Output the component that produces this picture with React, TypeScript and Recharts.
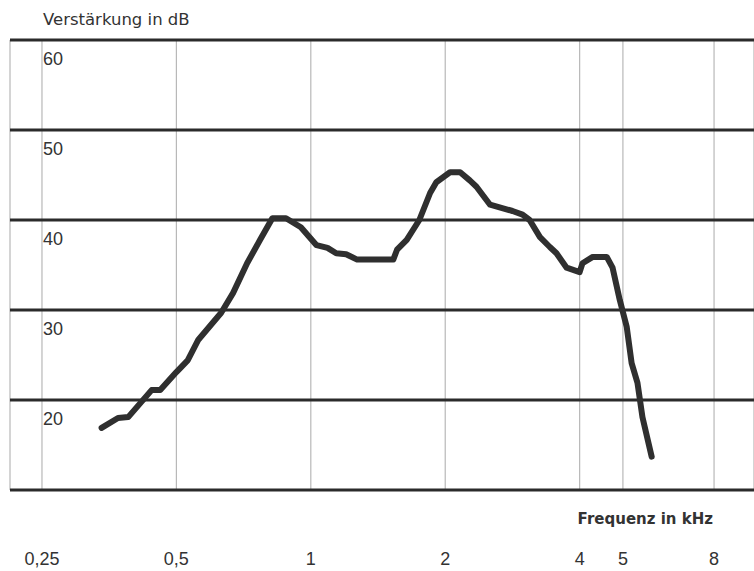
import { LineChart, Line, XAxis, YAxis, CartesianGrid, ReferenceLine, Label } from "recharts";

// Hörgerät-Frequenzgang, log. Frequenzachse
const freqKHz = [
  0.34, 0.37, 0.39, 0.44, 0.46, 0.5, 0.53, 0.56, 0.63, 0.67,
  0.72, 0.77, 0.82, 0.88, 0.95, 1.03, 1.09, 1.14, 1.2, 1.27,
  1.53, 1.56, 1.64, 1.75, 1.85, 1.91, 2.05, 2.16, 2.27, 2.35,
  2.52, 2.83, 2.98, 3.09, 3.26, 3.43, 3.55, 3.74, 4.0, 4.06,
  4.28, 4.6, 4.74, 4.92, 5.1, 5.23, 5.39, 5.53, 5.8,
];
const gainDb = [
  16.9, 18.0, 18.1, 21.1, 21.1, 23.1, 24.4, 26.7, 29.7, 31.9,
  35.2, 37.8, 40.2, 40.2, 39.2, 37.2, 36.9, 36.3, 36.2, 35.6,
  35.6, 36.7, 37.8, 40.0, 43.0, 44.2, 45.3, 45.3, 44.4, 43.7,
  41.7, 41.0, 40.6, 40.0, 38.1, 37.0, 36.3, 34.7, 34.2, 35.2,
  35.9, 35.9, 34.7, 31.1, 28.1, 24.1, 21.9, 18.1, 13.7,
];
const freqTicks = [0.25, 0.5, 1, 2, 4, 5, 8];
const dbLines = [10, 20, 30, 40, 50, 60];
const dbLabeled = [20, 30, 40, 50, 60];

const data = freqKHz.map((f, i) => ({ f, gain: gainDb[i] }));

const FONT = "'Liberation Sans', Arial, sans-serif";
const INK = "#333";

function FreqTick({ x, y, payload }: any) {
  return (
    <text x={x} y={y} dy={75} textAnchor="middle" fontFamily={FONT} fontSize={18} fill={INK}>
      {String(payload.value).replace(".", ",")}
    </text>
  );
}

export default function App() {
  return (
    <div style={{ position: "absolute", left: 0, top: 0, background: "#fff" }}>
      <LineChart width={754} height={571} data={data} margin={{ top: 40, right: 0, bottom: 0, left: 10 }}>
        <CartesianGrid horizontal={false} stroke="#b8b8b8" strokeWidth={1.2} />
        <XAxis
          dataKey="f"
          type="number"
          scale="log"
          domain={[0.212, 9.83]}
          allowDataOverflow
          ticks={freqTicks}
          axisLine={false}
          tickLine={false}
          tickSize={0}
          tickMargin={0}
          height={81}
          tick={<FreqTick />}
        >
          <Label
            content={({ viewBox }: any) => (
              <text
                x={viewBox.x + viewBox.width - 41}
                y={viewBox.y + 34}
                textAnchor="end"
                fontFamily="'DejaVu Sans', sans-serif"
                fontWeight="bold"
                fontSize={15}
                fill={INK}
              >
                Frequenz in kHz
              </text>
            )}
          />
        </XAxis>
        <YAxis hide type="number" domain={[10, 60]} allowDataOverflow />
        {dbLines.map((v) => (
          <ReferenceLine
            key={v}
            y={v}
            stroke="#2b2b2b"
            strokeWidth={3}
            label={
              dbLabeled.includes(v)
                ? (p: any) => (
                    <text x={p.viewBox.x + 33} y={p.viewBox.y + 25} fontFamily={FONT} fontSize={18} fill={INK}>
                      {v}
                    </text>
                  )
                : undefined
            }
          />
        ))}
        <Line
          dataKey="gain"
          type="linear"
          stroke="#2f2f2f"
          strokeWidth={6}
          strokeLinejoin="round"
          strokeLinecap="round"
          dot={false}
          isAnimationActive={false}
        />
      </LineChart>
      <div
        style={{
          position: "absolute",
          left: 43,
          top: 10,
          fontFamily: "'DejaVu Sans', sans-serif",
          fontSize: 16.5,
          lineHeight: "20px",
          color: INK,
        }}
      >
        Verstärkung in dB
      </div>
    </div>
  );
}
